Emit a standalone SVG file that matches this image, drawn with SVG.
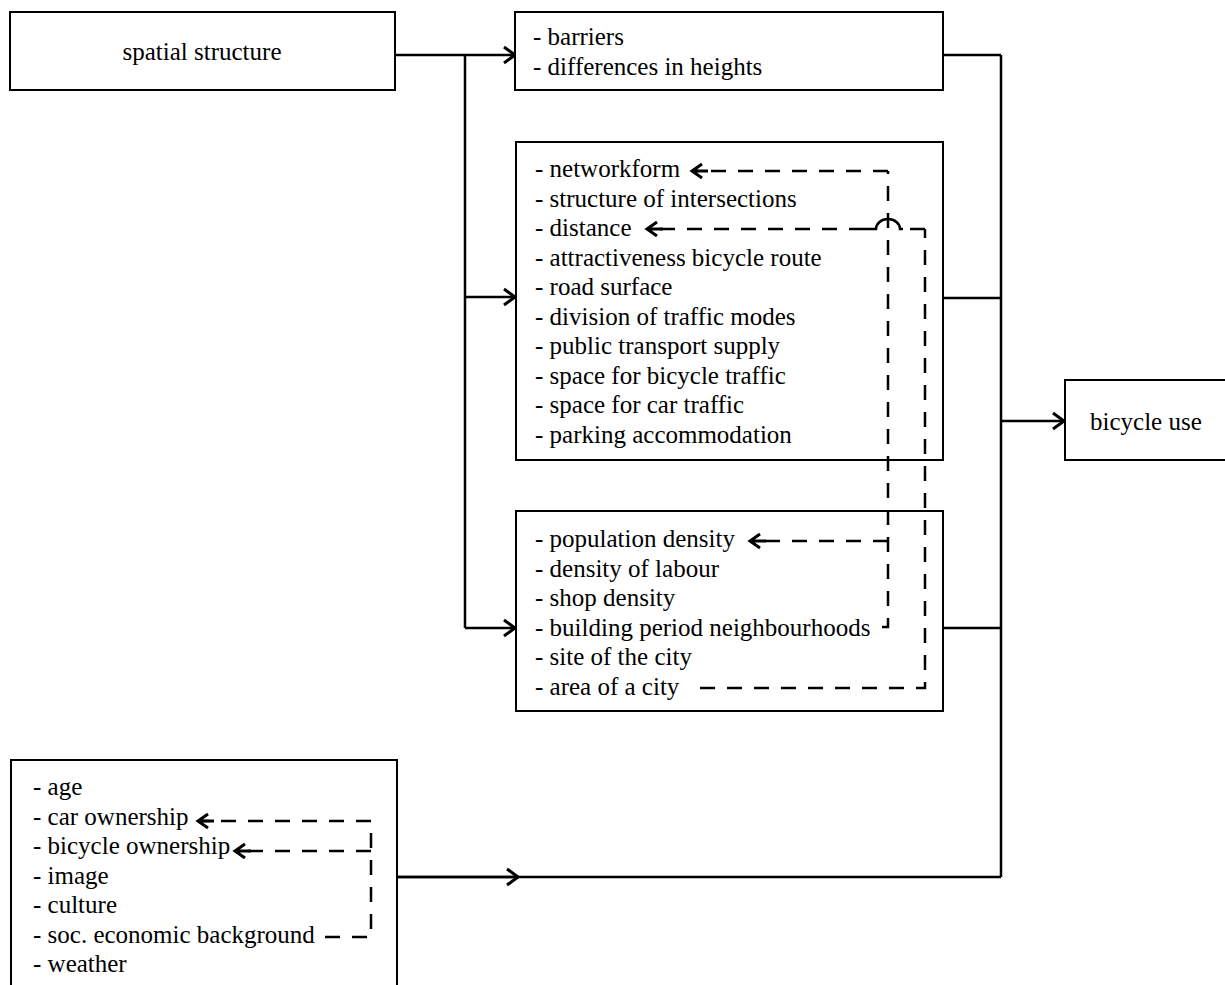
<svg xmlns="http://www.w3.org/2000/svg" width="1225" height="985" viewBox="0 0 1225 985">
<defs>
<style>
.box{fill:#fff;stroke:#000;stroke-width:2}
.t{font-family:"Liberation Serif","Times New Roman",serif;font-size:25px;fill:#000}
.c{text-anchor:middle}
.ln{fill:none;stroke:#000;stroke-width:2.5}
.ds{fill:none;stroke:#000;stroke-width:2.5;stroke-dasharray:15 12}
</style>
<marker id="ah" markerUnits="userSpaceOnUse" viewBox="-14 -10 16 20" markerWidth="16" markerHeight="20" refX="0" refY="0" orient="auto" overflow="visible">
<path d="M-11,-8 L0,0 L-11,8" fill="none" stroke="#000" stroke-width="3" stroke-dasharray="none"/>
</marker>
<marker id="ahd" markerUnits="userSpaceOnUse" viewBox="-14 -10 16 20" markerWidth="16" markerHeight="20" refX="0" refY="0" orient="auto" overflow="visible">
<path d="M-10,-7 L0,0 L-10,7 M0,0 L-16,0" fill="none" stroke="#000" stroke-width="3" stroke-dasharray="none"/>
</marker>
</defs>
<rect width="1225" height="985" fill="#fff"/>

<g id="connectors">
<path class="ln" d="M395,55 H515" marker-end="url(#ah)"/>
<path class="ln" d="M465,55 V628"/>
<path class="ln" d="M465,297 H515" marker-end="url(#ah)"/>
<path class="ln" d="M465,628 H515" marker-end="url(#ah)"/>
<path class="ln" d="M943,55 H1001 M943,298 H1001 M943,628 H1001 M1001,55 V877"/>
<path class="ln" d="M1001,421 H1064" marker-end="url(#ah)"/>
<path class="ln" d="M397,877 H1001"/>
<path class="ln" d="M397,877 H518" marker-end="url(#ah)"/>
</g>

<g id="spatial-structure">
<rect class="box" x="10" y="12" width="385" height="78"/>
<text class="t c" x="202" y="60">spatial structure</text>
</g>

<g id="barriers">
<rect class="box" x="515" y="12" width="428" height="78"/>
<text class="t" x="533" y="45">- barriers</text>
<text class="t" x="533" y="75">- differences in heights</text>
</g>

<g id="network">
<rect class="box" x="516" y="142" width="427" height="318"/>
<text class="t" x="535" y="177">- networkform</text>
<text class="t" x="535" y="207">- structure of intersections</text>
<text class="t" x="535" y="236">- distance</text>
<text class="t" x="535" y="266">- attractiveness bicycle route</text>
<text class="t" x="535" y="295">- road surface</text>
<text class="t" x="535" y="325">- division of traffic modes</text>
<text class="t" x="535" y="354">- public transport supply</text>
<text class="t" x="535" y="384">- space for bicycle traffic</text>
<text class="t" x="535" y="413">- space for car traffic</text>
<text class="t" x="535" y="443">- parking accommodation</text>
</g>

<g id="density">
<rect class="box" x="516" y="511" width="427" height="200"/>
<text class="t" x="535" y="547">- population density</text>
<text class="t" x="535" y="577">- density of labour</text>
<text class="t" x="535" y="606">- shop density</text>
<text class="t" x="535" y="636">- building period neighbourhoods</text>
<text class="t" x="535" y="665">- site of the city</text>
<text class="t" x="535" y="695">- area of a city</text>
</g>

<g id="bicycle-use">
<rect class="box" x="1065" y="380" width="165" height="80"/>
<text class="t" x="1090" y="430">bicycle use</text>
</g>

<g id="personal">
<rect class="box" x="11" y="760" width="386" height="240"/>
<text class="t" x="33" y="795">- age</text>
<text class="t" x="33" y="825">- car ownership</text>
<text class="t" x="33" y="854">- bicycle ownership</text>
<text class="t" x="33" y="884">- image</text>
<text class="t" x="33" y="913">- culture</text>
<text class="t" x="33" y="943">- soc. economic background</text>
<text class="t" x="33" y="972">- weather</text>
</g>

<g id="dashed-connectors">
<path class="ds" d="M882,627 H888 V171"/>
<path class="ds" d="M888,171 H692" marker-end="url(#ahd)"/>
<path class="ds" d="M888,541 H750" marker-end="url(#ahd)"/>
<path class="ds" d="M700,688 H925 V229"/>
<path class="ds" d="M925,229 H903"/>
<path class="ln" d="M903,229 H900 A12,10 0 0 0 876,229 H864"/>
<path class="ds" d="M864,229 H647" marker-end="url(#ahd)"/>
<path class="ds" d="M325,937 H371 V821"/>
<path class="ds" d="M371,821 H198" marker-end="url(#ahd)"/>
<path class="ds" d="M371,851 H235" marker-end="url(#ahd)"/>
</g>
</svg>
